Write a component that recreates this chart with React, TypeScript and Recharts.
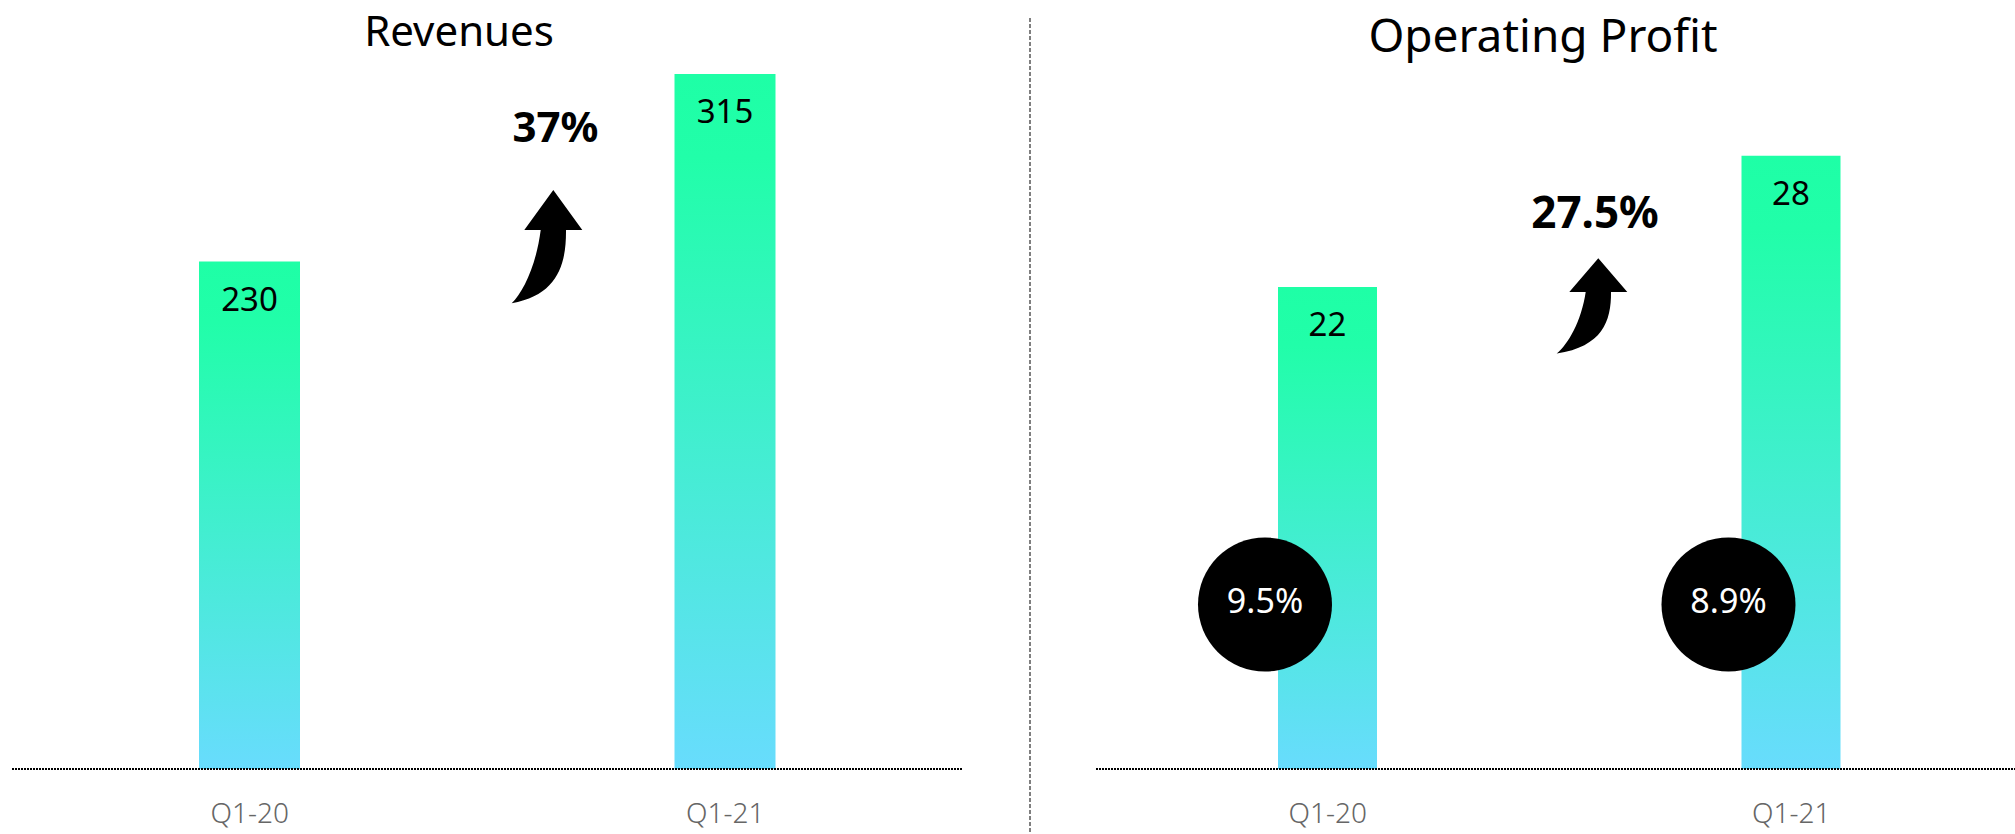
import React from 'react';
import { BarChart, Bar, XAxis, YAxis, LabelList } from 'recharts';

const quarters = ['Q1-20', 'Q1-21'];
const revenues = [230, 315];
const operatingProfit = [22, 28];
const operatingMargin = [9.5, 8.9];
const revenueGrowth = '37%';
const profitGrowth = '27.5%';

const revenueData = quarters.map((q, i) => ({ quarter: q, value: revenues[i] }));
const profitData = quarters.map((q, i) => ({
  quarter: q,
  value: operatingProfit[i],
  margin: operatingMargin[i],
}));

const FONT = '"Noto Sans", "Open Sans", sans-serif';

// curved "growth" arrow, drawn relative to its tip
const ARROW = 'M0,0 L29,40 L12.7,40 C13,75 4,105 -41.6,113.3 C-30,102 -17,75 -12.6,40 L-29,40 Z';

const tickStyle = { fill: '#666', fontSize: 28, fontWeight: 300, fontFamily: FONT };
const axisLineStyle = { stroke: '#000', strokeWidth: 2, strokeDasharray: '2 1' };

const Gradient = ({ id }: { id: string }) => (
  <defs>
    <linearGradient id={id} x1="0" y1="0" x2="0" y2="1">
      <stop offset="0%" stopColor="#1EFFA6" />
      <stop offset="12%" stopColor="#21FEA9" />
      <stop offset="100%" stopColor="#68DCFD" />
    </linearGradient>
  </defs>
);

// black bubble with the operating margin, hung off the left side of each bar
const MarginBubble = (props: any) => {
  const vb = props.viewBox && props.viewBox.width !== undefined ? props.viewBox : props;
  const { x, y, width, height } = vb;
  const cx = x + width / 2 - 62.5;
  const cy = y + height - 164.5;
  return (
    <g>
      <circle cx={cx} cy={cy} r={67} fill="#000" />
      <text x={cx} y={cy + 8.5} textAnchor="middle" fill="#fff" fontSize={34} fontFamily={FONT}>
        {props.value}%
      </text>
    </g>
  );
};

export default function App() {
  return (
    <div style={{ position: 'relative', width: 2015, height: 834, overflow: 'hidden', background: '#fff', fontFamily: FONT }}>
      <style>{'body{margin:0}'}</style>

      {/* Revenues */}
      <div style={{ position: 'absolute', left: 0, top: 0 }}>
        <BarChart width={975} height={834} data={revenueData} margin={{ top: 63, right: 12, bottom: 0, left: 12 }}>
          <Gradient id="revGrad" />
          <XAxis
            dataKey="quarter"
            height={65}
            tickLine={false}
            tickSize={0}
            tickMargin={34}
            axisLine={axisLineStyle}
            tick={tickStyle}
          />
          <YAxis hide type="number" domain={[0, 320]} />
          <Bar dataKey="value" barSize={101} fill="url(#revGrad)" isAnimationActive={false}>
            <LabelList dataKey="value" position="insideTop" offset={26} fill="#000" fontSize={33} fontFamily={FONT} />
          </Bar>
        </BarChart>
      </div>

      {/* Operating Profit */}
      <div style={{ position: 'absolute', left: 1096, top: 0 }}>
        <BarChart width={927} height={834} data={profitData} margin={{ top: 68, right: 0, bottom: 0, left: 0 }}>
          <Gradient id="opGrad" />
          <XAxis
            dataKey="quarter"
            height={65}
            tickLine={false}
            tickSize={0}
            tickMargin={34}
            axisLine={axisLineStyle}
            tick={tickStyle}
          />
          <YAxis hide type="number" domain={[0, 32]} />
          <Bar dataKey="value" barSize={99} fill="url(#opGrad)" isAnimationActive={false}>
            <LabelList dataKey="value" position="insideTop" offset={26} fill="#000" fontSize={33} fontFamily={FONT} />
            <LabelList dataKey="margin" content={MarginBubble} />
          </Bar>
        </BarChart>
      </div>

      {/* titles, growth callouts, divider */}
      <svg width={2015} height={834} style={{ position: 'absolute', left: 0, top: 0, pointerEvents: 'none' }}>
        <text x={459} y={46} textAnchor="middle" fontSize={42} fill="#000" fontFamily={FONT}>
          Revenues
        </text>
        <text x={1543} y={51.5} textAnchor="middle" fontSize={46} fill="#000" fontFamily={FONT}>
          Operating Profit
        </text>

        <text x={555.5} y={141.7} textAnchor="middle" fontSize={42} fontWeight={700} fill="#000" fontFamily={FONT}>
          {revenueGrowth}
        </text>
        <path d={ARROW} fill="#000" transform="translate(553.3,190)" />

        <text x={1595} y={227.7} textAnchor="middle" fontSize={44} fontWeight={700} fill="#000" fontFamily={FONT}>
          {profitGrowth}
        </text>
        <path d={ARROW} fill="#000" transform="translate(1598.3,258.3) scale(1,0.84)" />

        <line x1={1030} y1={18} x2={1030} y2={834} stroke="#555" strokeWidth={1.5} strokeDasharray="4 2" />
      </svg>
    </div>
  );
}
